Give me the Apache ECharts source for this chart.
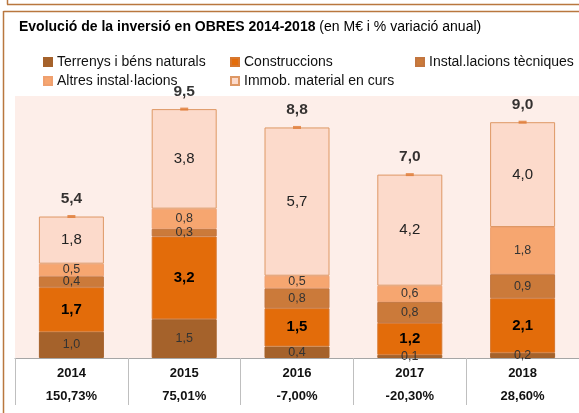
<!DOCTYPE html>
<html><head><meta charset="utf-8">
<script src="https://cdn.jsdelivr.net/npm/echarts@6/dist/echarts.min.js"></script>
<style>html,body{margin:0;padding:0;background:#fff}#c{width:579px;height:413px}</style>
</head><body><div id="c"></div>
<script>
var categories = ['2014','2015','2016','2017','2018'];
var variation = ['150,73%','75,01%','-7,00%','-20,30%','28,60%'];
var terrenys = [1.0, 1.48, 0.44, 0.12, 0.2];
var construccions = [1.7, 3.16, 1.46, 1.22, 2.08];
var instTecniques = [0.42, 0.29, 0.76, 0.80, 0.92];
var altresInst = [0.48, 0.77, 0.48, 0.62, 1.8];
var immob = [1.8, 3.80, 5.66, 4.24, 4.0];
var totals = [5.4, 9.5, 8.8, 7.0, 9.0];
var names = ['Terrenys i béns naturals','Construccions','Instal.lacions tècniques','Altres instal·lacions','Immob. material en curs'];

var FONT = '"Liberation Sans", Arial, sans-serif';
function fmt(v){ return v.toFixed(1).replace('.', ','); }

var colors = ['#A5622B','#E36C0A','#CB7A3A','#F6A670','#FCDACB'];
var borders = ['#A5622B','#D7772E','#C27640','#EFA06F','#DE9865'];
var labelStyles = [
  {fontSize:12.5, color:'#333', fontWeight:'normal'},
  {fontSize:15, color:'#000', fontWeight:'bold'},
  {fontSize:12.5, color:'#333', fontWeight:'normal'},
  {fontSize:12.5, color:'#333', fontWeight:'normal'},
  {fontSize:15, color:'#222', fontWeight:'normal'}
];
var datas = [terrenys, construccions, instTecniques, altresInst, immob];

var series = datas.map(function(d, i){
  return {
    name: names[i], type:'bar', stack:'a', barWidth:65, data:d,
    itemStyle:{color:colors[i], borderColor:borders[i], borderWidth:1},
    label:{show:true, position:'inside', fontFamily:FONT, fontSize:labelStyles[i].fontSize,
      color:labelStyles[i].color, fontWeight:labelStyles[i].fontWeight,
      formatter:function(p){ return fmt(p.value); }},
    emphasis:{disabled:true}
  };
});
series.push({
  name:'total', type:'scatter', data:totals, symbol:'rect', symbolSize:[8,3],
  itemStyle:{color:'#E07A35'}, z:5,
  label:{show:true, position:'top', distance:8, fontFamily:FONT, fontSize:15.5, fontWeight:'bold', color:'#000',
    formatter:function(p){ return fmt(p.value); }}
});

var legendPos = [[38,50],[225,50],[410,50],[38,69],[225,69]];
var legends = names.map(function(n, i){
  return {data:[n], left:legendPos[i][0], top:legendPos[i][1], itemWidth:8, itemHeight:8, itemGap:4,
    icon:'rect', textStyle:{fontFamily:FONT, fontSize:14, color:'#111'}, selectedMode:false};
});

var chart = echarts.init(document.getElementById('c'), null, {renderer:'canvas'});
chart.setOption({
  animation:false,
  title:{left:14, top:15, text:'{b|Evolució de la inversió en OBRES 2014-2018}{n| (en M€ i % variació anual)}',
    textStyle:{fontWeight:'normal', rich:{b:{fontFamily:FONT, fontSize:14, fontWeight:'bold', color:'#000'},
                     n:{fontFamily:FONT, fontSize:14, fontWeight:'normal', color:'#000'}}}},
  legend:legends,
  grid:{left:15, right:-1, top:96, bottom:55, show:true, backgroundColor:'#FDEEE9', borderWidth:0},
  xAxis:{type:'category', data:categories,
    axisLine:{lineStyle:{color:'#A6A6A6', width:1}},
    axisTick:{show:true, interval:0, length:47, lineStyle:{color:'#BFBFBF'}},
    axisLabel:{interval:0, margin:4, fontFamily:FONT, lineHeight:23,
      formatter:function(v, i){ return '{a|' + v + '}\n{a|' + variation[i] + '}'; },
      rich:{a:{fontFamily:FONT, fontSize:13, fontWeight:'bold', color:'#111', lineHeight:23}}}},
  yAxis:{type:'value', min:0, max:10, show:false, splitLine:{show:false}},
  series:series,
  graphic:[
    {type:'line', shape:{x1:7.5,y1:0,x2:7.5,y2:4.5}, style:{stroke:'#B9773F', lineWidth:1.5}},
    {type:'line', shape:{x1:7,y1:4.5,x2:579,y2:4.5}, style:{stroke:'#B9773F', lineWidth:1.5}},
    {type:'line', shape:{x1:3.5,y1:11.5,x2:579,y2:11.5}, style:{stroke:'#B9773F', lineWidth:1.5}},
    {type:'line', shape:{x1:3.5,y1:11,x2:3.5,y2:413}, style:{stroke:'#B9773F', lineWidth:1.5}}
  ]
});
</script></body></html>
